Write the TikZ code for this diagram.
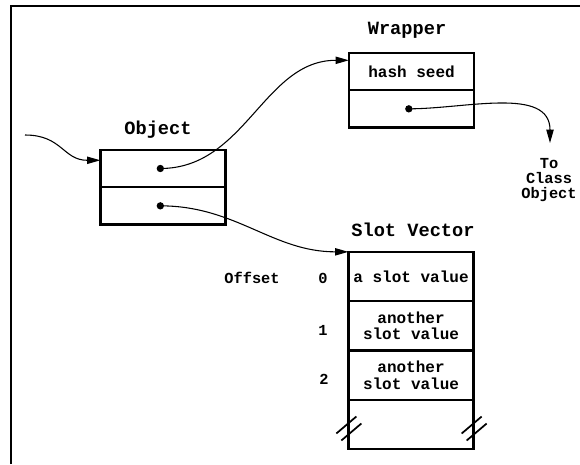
\documentclass[tikz,border=0pt]{standalone}
\usepackage{fontspec}
\setmonofont{Liberation Mono}
\usetikzlibrary{positioning,calc,arrows.meta}

\tikzset{every picture/.style={line width=0.75pt}}
\tikzset{
  cell/.style={draw,line width=1.8pt,minimum width=94pt,minimum height=28pt,inner sep=0pt,outer sep=0pt,align=center,font={\ttfamily\bfseries\fontsize{12}{12.5}\selectfont}},
  slot/.style={cell,minimum height=37pt},
  title/.style={font={\ttfamily\bfseries\fontsize{14}{14}\selectfont}},
  lbl/.style={align=center,font={\ttfamily\bfseries\fontsize{11.5}{11}\selectfont}},
  dot/.style={circle,fill,inner sep=0pt,minimum size=5.5pt},
  ptr/.style={line width=0.8pt,-{Triangle[length=10pt,width=5.5pt]}},
  brkline/.style={line width=1.3pt},
}

\begin{document}
\begin{tikzpicture}[x=0.75pt,y=0.75pt,yscale=-1,xscale=1]
\useasboundingbox (0,0) rectangle (580,464);

%Page frame
\draw [line width=1.5pt] (11,464) -- (11,6) -- (580,6) ;

%Object
\node [title] (objt) at (158,130) {Object};
\node [cell] (obj1) at (163,168.5) {};
\node [cell,below=0pt of obj1] (obj2) {};
\node [dot] (p1) at ([xshift=-2pt]obj1.center) {};
\node [dot] (p2) at ([xshift=-2pt]obj2.center) {};

%Wrapper
\node [title] (wrt) at (407,30) {Wrapper};
\node [cell] (wr1) at (411.5,71.5) {hash seed};
\node [cell,below=0pt of wr1] (wr2) {};
\node [dot] (p3) at ([xshift=-2pt]wr2.center) {};

%Slot Vector
\node [title] (svt) at (413,230) {Slot Vector};
\node [slot] (sv0) at (411,276.5) {a slot value};
\node [slot,below=0pt of sv0] (sv1) {another\\slot value};
\node [slot,below=0pt of sv1] (sv2) {another\\slot value};
\node [slot,below=0pt of sv2] (sv3) {};
% break marks on both sides
\foreach \s in {west,east} {
  \draw [brkline] ($(sv3.\s)+(-12,9)$) -- ++(20,-17) ;
  \draw [brkline] ($(sv3.\s)+(-7,16)$) -- ++(20,-17) ;
}

% Offsets
\node [lbl] (off) at (252,278) {Offset};
\node [lbl] (o0) at (323,278) {0};
\node [lbl] (o1) at (323,330) {1};
\node [lbl] (o2) at (324,379) {2};

% Class object
\node [lbl] (cls) at (549,180) {To\\Class\\Object};
\coordinate (clstip) at (550,143);
\coordinate (in) at (25,135);

%Pointers
\draw [ptr] (in) to[out=0,in=180,looseness=1.2] ($(obj1.north west)!0.28!(obj1.south west)$) ;
\draw [ptr] (p1.center) to[out=0,in=180] ($(wr1.north west)!0.2!(wr1.south west)$) ;
\draw [ptr] (p2.center) to[out=0,in=180] (sv0.north west) ;
\draw [ptr] (p3.center) to[out=0,in=-90] (clstip) ;

\end{tikzpicture}
\end{document}
